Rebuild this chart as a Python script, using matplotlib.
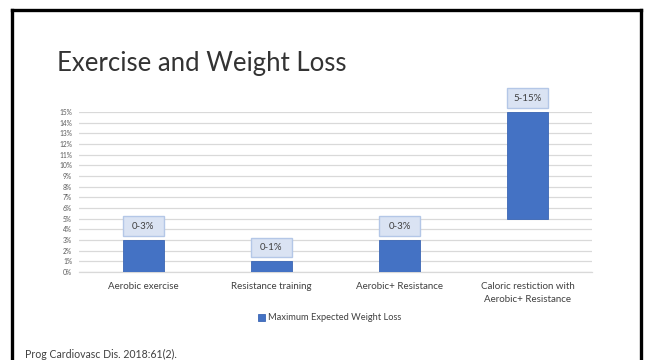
import matplotlib
matplotlib.use("Agg")
import matplotlib.pyplot as plt
from matplotlib.lines import Line2D
from matplotlib.patches import Rectangle
import matplotlib.ticker as mticker

categories = ["Aerobic exercise", "Resistance training", "Aerobic+ Resistance",
              "Caloric restiction with\nAerobic+ Resistance"]
low_values = [0, 0, 0, 5]
high_values = [3, 1, 3, 15]
labels = ["0-3%", "0-1%", "0-3%", "5-15%"]
yticks = list(range(0, 16))
series_name = "Maximum Expected Weight Loss"
title = "Exercise and Weight Loss"
footer = "Prog Cardiovasc Dis. 2018:61(2)."

plt.rcParams['font.family'] = ['Lato', 'DejaVu Sans']

fig = plt.figure(figsize=(6.46, 3.6), dpi=100)
ax = fig.add_axes([79/646, 1 - 272/360, (592 - 79)/646, (272 - 112)/360])

bar_color = "#4472C4"
width = 0.32
x = list(range(len(categories)))
heights = [h - l for h, l in zip(high_values, low_values)]
bars = ax.bar(x, heights, bottom=low_values, width=width, color=bar_color,
              edgecolor="#3b66b4", linewidth=0.6, label=series_name, zorder=3)

# label boxes above each bar
for xi, top, lab in zip(x, high_values, labels):
    rect = Rectangle((xi - width / 2, top + 0.37), width, 1.85,
                     facecolor="#DAE3F3", edgecolor="#B4C7E7", linewidth=1.0,
                     clip_on=False, zorder=4)
    ax.add_patch(rect)
    ax.text(xi, top + 0.37 + 1.85 / 2, lab, ha="center", va="center",
            fontsize=7, color="#404040", zorder=5, clip_on=False)

ax.set_xlim(-0.5, len(categories) - 0.5)
ax.set_ylim(0, 15)
ax.set_yticks(yticks)
ax.yaxis.set_major_formatter(mticker.FuncFormatter(lambda v, p: f"{int(v)}%"))
ax.grid(axis="y", color="#D9D9D9", linewidth=0.9, zorder=0)
ax.set_axisbelow(True)
for s in ["top", "right", "left"]:
    ax.spines[s].set_visible(False)
ax.spines["bottom"].set_color("#D9D9D9")
ax.spines["bottom"].set_linewidth(0.9)
ax.tick_params(axis="y", length=0, labelsize=4.8, labelcolor="#595959", pad=5)
ax.tick_params(axis="x", length=0, labelsize=7, labelcolor="#404040", pad=7)
ax.set_xticks(x)
ax.set_xticklabels(categories, linespacing=1.65)

leg = fig.legend(handles=[bars], labels=[series_name], loc="center",
                 bbox_to_anchor=(330/646, 1 - 318/360), frameon=False,
                 fontsize=6.7, handlelength=0.7, handleheight=0.7,
                 handletextpad=0.4, labelcolor="#404040")

fig.text(57/646, 1 - 63/360, title, fontsize=18.5, fontweight="normal",
         color="#333333", ha="left", va="center")
fig.text(25/646, 1 - 354/360, footer, fontsize=7.6, color="#404040",
         ha="left", va="center")

# slide frame
lw = 2.4
fig.add_artist(Line2D([11.5/646, 11.5/646], [0, 1 - 10/360], transform=fig.transFigure,
                      color="black", linewidth=lw, solid_capstyle="projecting"))
fig.add_artist(Line2D([11.5/646, 641/646], [1 - 10/360, 1 - 10/360], transform=fig.transFigure,
                      color="black", linewidth=lw, solid_capstyle="projecting"))
fig.add_artist(Line2D([641/646, 641/646], [1 - 10/360, 0], transform=fig.transFigure,
                      color="black", linewidth=lw, solid_capstyle="projecting"))

fig.savefig("out.png", dpi=100)
